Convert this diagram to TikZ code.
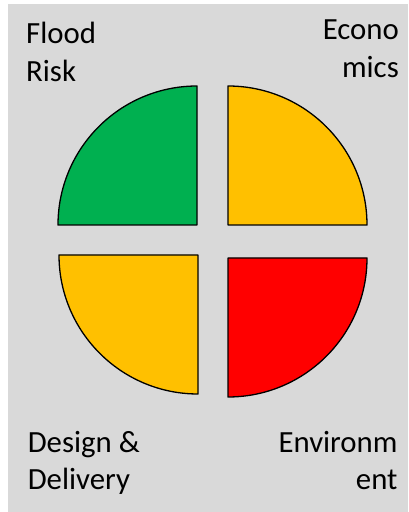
\documentclass[tikz,border=0pt]{standalone}
\usepackage{fontspec}
\setmainfont{Carlito}
\usetikzlibrary{calc}
\definecolor{panelgrey}{RGB}{217,217,217}
\definecolor{mygreen}{RGB}{0,176,80}
\definecolor{myamber}{RGB}{255,192,0}
\definecolor{myred}{RGB}{255,0,0}

\begin{document}
\begin{tikzpicture}[x=1pt, y=1pt,
    quarter/.style={draw=black, line width=1.3pt, line join=round},
    cornertext/.style={inner sep=0pt, font=\fontsize{30.8}{38}\selectfont}]
    % --- Tlo panelu ---
    \useasboundingbox (0,0) rectangle (408,512);
    \fill[panelgrey] (8,0) rectangle (408,508);

    % Srodek krzyza
    \coordinate (hub) at (212.5,271);

    % --- Cwiartki ---
    % lewa gorna (zielona)
    \filldraw[quarter, fill=mygreen] ($(hub) + (-15.5,16)$) -- ++(-139,0)
        arc[start angle=180, end angle=90, radius=139] -- cycle;
    % prawa gorna (zolta)
    \filldraw[quarter, fill=myamber] ($(hub) + (15.5,16)$) -- ++(0,139)
        arc[start angle=90, end angle=0, radius=139] -- cycle;
    % lewa dolna (zolta)
    \filldraw[quarter, fill=myamber] ($(hub) + (-14.5,-14)$) -- ++(0,-139)
        arc[start angle=270, end angle=180, radius=139] -- cycle;
    % prawa dolna (czerwona)
    \filldraw[quarter, fill=myred] ($(hub) + (15.5,-17)$) -- ++(139,0)
        arc[start angle=0, end angle=-90, radius=139] -- cycle;

    % --- Podpisy w rogach (base = ostatnia linia) ---
    \node[cornertext, anchor=base west, align=left] (flood) at (26,430.3) {Flood\\Risk};
    \node[cornertext, anchor=base east, align=right] (econ) at (399,434.3) {Econo\\mics};
    \node[cornertext, anchor=base west, align=left] (design) at (27.6,22) {Design \&\\Delivery};
    \node[cornertext, anchor=base east, align=right] (environ) at (397.7,22) {Environm\\ent};
\end{tikzpicture}
\end{document}
